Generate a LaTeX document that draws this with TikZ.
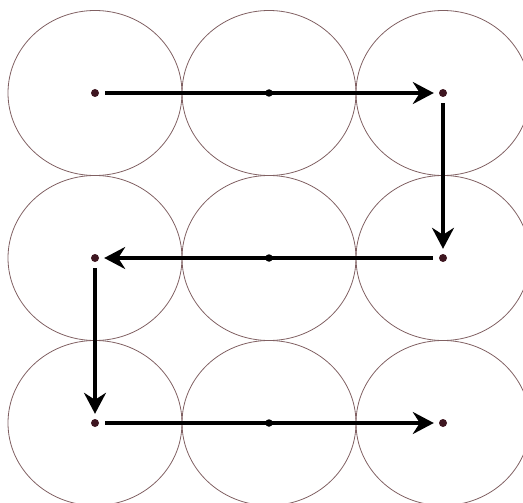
\documentclass[tikz,border=0pt]{standalone}
\usetikzlibrary{arrows.meta}
\definecolor{rim}{HTML}{806062}
\definecolor{pin}{HTML}{3E1620}

\begin{document}
\begin{tikzpicture}[x=1pt,y=-1pt,
 cell/.style={draw=rim,line width=.8pt},
 dot/.style={circle,fill=pin,inner sep=0pt,minimum size=8pt},
 middot/.style={circle,fill=black,inner sep=0pt,minimum size=7.5pt},
 arr/.style={-{Stealth[length=21pt,width=22pt,inset=7pt]},line width=3.4pt,shorten <=6pt,shorten >=5pt}]
\useasboundingbox (0,0) rectangle (523,503);
\begin{scope}
\clip (0,0) rectangle (523,503);
\foreach \x in {95,269,443}
 \foreach \y in {93,258,423}
  \draw[cell] (\x,\y) ellipse [x radius=87pt,y radius=82.5pt];
\end{scope}
\node[dot] (a1) at (95,93) {};
\node[middot] (b1) at (269,93) {};
\node[dot] (c1) at (443,93) {};
\node[dot] (a2) at (95,258) {};
\node[middot] (b2) at (269,258) {};
\node[dot] (c2) at (443,258) {};
\node[dot] (a3) at (95,423) {};
\node[middot] (b3) at (269,423) {};
\node[dot] (c3) at (443,423) {};
\draw[arr] (a1)--(c1);
\draw[arr] (c1)--(c2);
\draw[arr] (c2)--(a2);
\draw[arr] (a2)--(a3);
\draw[arr] (a3)--(c3);
\end{tikzpicture}
\end{document}
